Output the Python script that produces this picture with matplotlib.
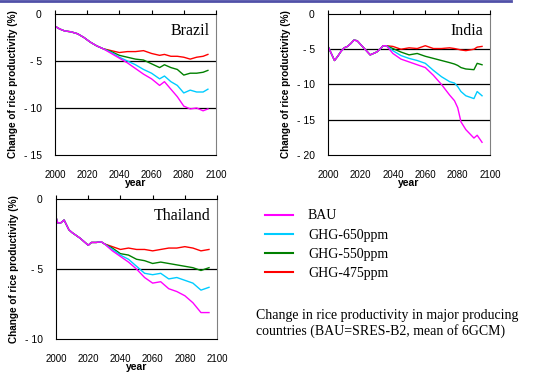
import numpy as np
import matplotlib
matplotlib.use("Agg")
from matplotlib import pyplot as plt
from matplotlib.lines import Line2D

# ---- data ----
years_common_brazil = [2000, 2003, 2006, 2010, 2014, 2018, 2022, 2026, 2030]
brazil_common = [-1.3, -1.6, -1.8, -1.9, -2.1, -2.5, -3.0, -3.4, -3.7]
years_tail = [2030, 2035, 2040, 2045, 2050, 2055, 2060, 2065, 2068, 2072,
              2076, 2080, 2084, 2088, 2092, 2095]
brazil_bau = [-3.7, -4.2, -4.7, -5.2, -5.8, -6.4, -6.9, -7.6, -7.2, -8.0,
              -8.8, -9.8, -10.1, -10.0, -10.3, -10.1]
brazil_650 = [-3.7, -4.1, -4.6, -5.0, -5.4, -5.9, -6.3, -6.9, -6.6, -7.2,
              -7.6, -8.4, -8.1, -8.3, -8.3, -8.0]
brazil_550 = [-3.7, -4.0, -4.4, -4.6, -4.8, -4.9, -5.3, -5.7, -5.4, -5.7,
              -5.9, -6.5, -6.3, -6.3, -6.2, -6.0]
brazil_475 = [-3.7, -3.9, -4.1, -4.0, -4.0, -3.9, -4.2, -4.4, -4.3, -4.5,
              -4.5, -4.6, -4.8, -4.6, -4.5, -4.3]

years_common_india = [2000, 2002, 2004, 2006, 2008, 2010, 2012, 2014, 2016,
                      2018, 2020, 2022, 2024, 2026, 2028, 2030, 2032, 2034, 2036]
india_common = [-4.6, -5.6, -6.6, -6.0, -5.3, -4.8, -4.6, -4.2, -3.7,
                -3.8, -4.3, -4.8, -5.3, -5.8, -5.6, -5.4, -5.0, -4.5, -4.5]
years_tail_india = [2036, 2040, 2045, 2050, 2055, 2060, 2065, 2070, 2075,
                    2078, 2080, 2082, 2085, 2090, 2092, 2095]
india_bau = [-4.6, -5.6, -6.4, -6.8, -7.2, -7.6, -8.7, -10.0, -11.5,
             -12.3, -13.3, -15.3, -16.4, -17.6, -17.2, -18.2]
india_650 = [-4.5, -5.2, -5.9, -6.3, -6.6, -7.0, -8.0, -8.9, -9.6,
             -9.8, -10.3, -11.0, -11.6, -12.0, -11.0, -11.6]
india_550 = [-4.4, -4.9, -5.4, -5.8, -5.6, -6.0, -6.3, -6.6, -6.9,
             -7.1, -7.3, -7.6, -7.8, -7.9, -7.0, -7.2]
india_475 = [-4.3, -4.6, -5.0, -4.8, -4.9, -4.5, -4.9, -4.9, -4.8,
             -4.9, -5.0, -5.1, -5.2, -5.0, -4.7, -4.6]

years_common_thai = [2000, 2001, 2003, 2005, 2008, 2010, 2015, 2020, 2022,
                     2025, 2028, 2030]
thai_common = [-1.3, -1.7, -1.7, -1.5, -2.2, -2.4, -2.8, -3.3, -3.1,
               -3.1, -3.05, -3.2]
years_tail_thai = [2030, 2035, 2040, 2045, 2050, 2055, 2060, 2065, 2070,
                   2075, 2080, 2085, 2090, 2095]
thai_bau = [-3.2, -3.7, -4.1, -4.5, -5.0, -5.6, -6.0, -5.9, -6.4,
            -6.6, -6.9, -7.4, -8.1, -8.1]
thai_650 = [-3.2, -3.6, -4.0, -4.3, -4.8, -5.3, -5.4, -5.3, -5.7,
            -5.6, -5.8, -6.0, -6.5, -6.3]
thai_550 = [-3.2, -3.5, -3.9, -4.0, -4.3, -4.4, -4.6, -4.5, -4.6,
            -4.7, -4.8, -4.9, -5.1, -4.9]
thai_475 = [-3.2, -3.4, -3.6, -3.5, -3.6, -3.6, -3.7, -3.6, -3.5,
            -3.5, -3.4, -3.5, -3.7, -3.6]

scenario_labels = ["BAU", "GHG-650ppm", "GHG-550ppm", "GHG-475ppm"]
scenario_colors = ["#ff00ff", "#00ccff", "#008000", "#ff0000"]

plt.rcParams["font.family"] = ["Liberation Sans", "DejaVu Sans"]
serif = ["Liberation Serif", "DejaVu Serif"]


def draw_panel(ax, name, years_c, common, years_t, tails, ymin, grid_vals):
    yrs = list(years_c) + list(years_t[1:])
    for vals, color in reversed(list(zip(tails, scenario_colors))):
        ax.plot(yrs, list(common) + list(vals[1:]), color=color, lw=1.0)
    for g in grid_vals:
        ax.axhline(g, color="black", lw=0.9, zorder=0)
    ax.set_xlim(2000, 2100)
    ax.set_ylim(ymin, 0)
    ax.set_xticks(range(2000, 2101, 20))
    ax.set_yticks(range(0, ymin - 1, -5))
    ax.set_yticklabels(["0" if v == 0 else "- %d" % -v for v in range(0, ymin - 1, -5)])
    ax.tick_params(axis="x", which="both", bottom=False, top=True,
                   direction="out", length=3, width=0.8, labelsize=7, pad=7.5)
    ax.tick_params(axis="y", left=False, labelsize=7.5, pad=6)
    ax.spines["right"].set_color("#808080")
    for s in ["left", "top", "bottom"]:
        ax.spines[s].set_color("black")
    ax.set_xlabel("year", fontsize=7.5, fontweight="bold", labelpad=-1)
    ax.set_ylabel("Change of rice productivity (%)", fontsize=7.2,
                  fontweight="bold", labelpad=4)
    ax.text(0.96, 0.88, name, transform=ax.transAxes, ha="right", va="center",
            fontsize=11.5, family=serif)


fig = plt.figure(figsize=(5.44, 3.74), dpi=100)

ax1 = fig.add_axes([0.101, 0.5856, 0.296, 0.377])
draw_panel(ax1, "Brazil", years_common_brazil, brazil_common, years_tail,
           [brazil_bau, brazil_650, brazil_550, brazil_475], -15, [-5, -10])

ax2 = fig.add_axes([0.603, 0.5856, 0.298, 0.377])
draw_panel(ax2, "India", years_common_india, india_common, years_tail_india,
           [india_bau, india_650, india_550, india_475], -20, [-5, -10, -15])

ax3 = fig.add_axes([0.103, 0.093, 0.296, 0.375])
draw_panel(ax3, "Thailand", years_common_thai, thai_common, years_tail_thai,
           [thai_bau, thai_650, thai_550, thai_475], -10, [-5])

handles = [Line2D([], [], color=c, lw=1.5) for c in scenario_colors]
fig.legend(handles, scenario_labels, loc="upper left",
           bbox_to_anchor=(0.487, 0.44), frameon=False,
           prop={"family": serif, "size": 10}, handlelength=2.0,
           handletextpad=1.1, labelspacing=0.45, borderaxespad=0,
           borderpad=0)

fig.text(0.47, 0.135, "Change in rice productivity in major producing\n"
         "countries (BAU=SRES-B2, mean of 6GCM)", family=serif, fontsize=10,
         ha="left", va="center", linespacing=1.15)

# slide header rule
fig.add_artist(Line2D([0, 0.94], [0.997, 0.997], color="#5050a8", lw=2.0,
                      transform=fig.transFigure))

fig.savefig("out.png", dpi=100)
